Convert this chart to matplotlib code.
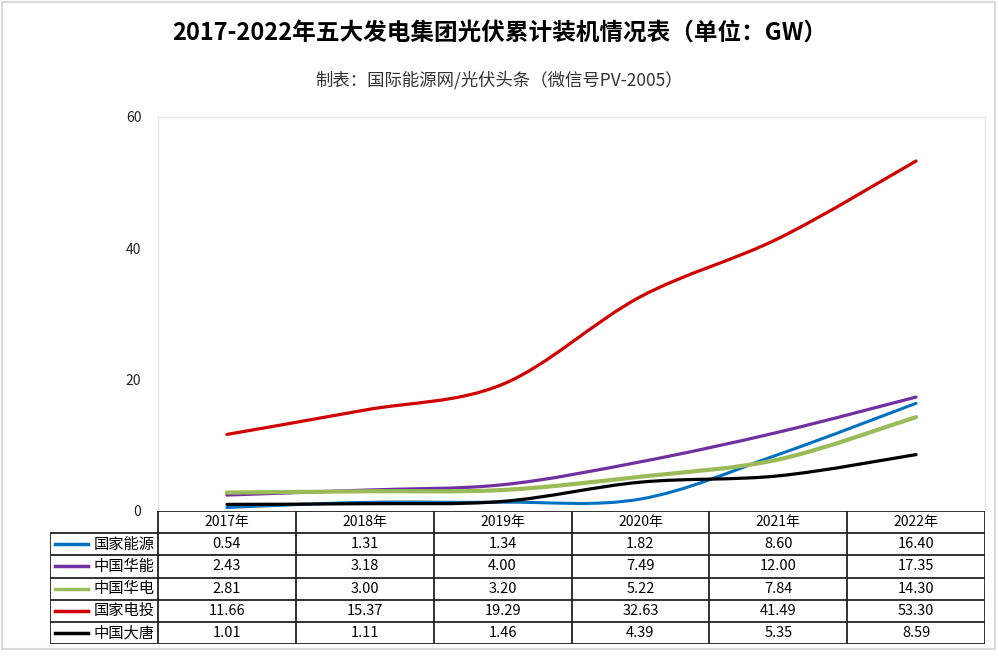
import numpy as np
import matplotlib
matplotlib.use("Agg")
import matplotlib.pyplot as plt
from matplotlib.path import Path
from matplotlib.patches import PathPatch, Rectangle

plt.rcParams['font.family'] = ['Noto Sans CJK SC', 'DejaVu Sans']

years = ['2017年', '2018年', '2019年', '2020年', '2021年', '2022年']
groups = ['国家能源', '中国华能', '中国华电', '国家电投', '中国大唐']
guoneng = [0.54, 1.31, 1.34, 1.82, 8.60, 16.40]
huaneng = [2.43, 3.18, 4.00, 7.49, 12.00, 17.35]
huadian = [2.81, 3.00, 3.20, 5.22, 7.84, 14.30]
diantou = [11.66, 15.37, 19.29, 32.63, 41.49, 53.30]
datang = [1.01, 1.11, 1.46, 4.39, 5.35, 8.59]
series = [guoneng, huaneng, huadian, diantou, datang]
colors = ['#0070C0', '#7030A0', '#9BBB59', '#D00000', '#000000']
widths = [2.2, 2.3, 3.0, 2.3, 2.3]


def smooth_path(x, y):
   # excel-like smoothed line: catmull-rom as cubic bezier segments
   pts = np.column_stack([x, y]).astype(float)
   p = np.vstack([pts[0], pts, pts[-1]])
   verts = [pts[0]]
   codes = [Path.MOVETO]
   for i in range(1, len(p) - 2):
      c1 = p[i] + (p[i + 1] - p[i - 1]) / 6.0
      c2 = p[i + 1] - (p[i + 2] - p[i]) / 6.0
      verts += [c1, c2, p[i + 1]]
      codes += [Path.CURVE4] * 3
   return Path(verts, codes)


W, H = 999, 659
fig = plt.figure(figsize=(W / 100, H / 100), dpi=100)

# outer frame
fig.patches.append(Rectangle((2 / W, 10 / H), (W - 6) / W, (H - 12) / H,
                             transform=fig.transFigure, fill=False,
                             edgecolor='#d9d9d9', linewidth=1.5))

fig.text(0.5, 1 - 33 / H, '2017-2022年五大发电集团光伏累计装机情况表（单位：GW）',
         ha='center', va='center', fontsize=17, fontweight='bold')
fig.text(0.5, 1 - 80 / H, '制表：国际能源网/光伏头条（微信号PV-2005）',
         ha='center', va='center', fontsize=12.5, color='#333333')

x_left, x_right = 158, 985
y_top, y_bot = 117, 511
ax = fig.add_axes([x_left / W, 1 - y_bot / H, (x_right - x_left) / W, (y_bot - y_top) / H])
x = np.arange(len(years))
for vals, c, lw in zip(series, colors, widths):
   ax.add_patch(PathPatch(smooth_path(x, vals), facecolor='none', edgecolor=c,
                          linewidth=lw, capstyle='round', zorder=3))
ax.set_xlim(-0.5, len(years) - 0.5)
ax.set_ylim(0, 60)
ax.set_yticks([0, 20, 40, 60])
ax.set_xticks([])
ax.tick_params(axis='y', length=0, pad=12, labelsize=10, labelcolor='#222222')
for s in ax.spines.values():
   s.set_color('#e6e6e6')
   s.set_linewidth(1)
ax.spines['bottom'].set_visible(False)

# data table with legend keys
t_left, t_right, t_top, t_bot = 50, 985, 511, 644
tax = fig.add_axes([t_left / W, 1 - t_bot / H, (t_right - t_left) / W, (t_bot - t_top) / H])
tax.set_xlim(t_left, t_right)
tax.set_ylim(t_bot, t_top)
tax.axis('off')
nrow = len(groups) + 1
row_h = (t_bot - t_top) / nrow
col_w = (t_right - x_left) / len(years)
lc = '#222222'
# header row
tax.plot([x_left, t_right], [t_top, t_top], color=lc, lw=1.3)
for j in range(len(years) + 1):
   xx = x_left + j * col_w
   tax.plot([xx, xx], [t_top, t_bot], color=lc, lw=1.3)
for i in range(1, nrow + 1):
   tax.plot([t_left, t_right], [t_top + i * row_h] * 2, color=lc, lw=1.3)
tax.plot([t_left, t_left], [t_top + row_h, t_bot], color=lc, lw=1.3)
for j, yr in enumerate(years):
   tax.text(x_left + (j + 0.5) * col_w, t_top + 0.5 * row_h, yr,
            ha='center', va='center', fontsize=10)
for i, (g, vals, c) in enumerate(zip(groups, series, colors)):
   yc = t_top + (i + 1.5) * row_h
   tax.plot([t_left + 5, t_left + 38], [yc, yc], color=c, lw=2.5)
   tax.text(x_left - 3, yc, g, ha='right', va='center', fontsize=11)
   for j, v in enumerate(vals):
      tax.text(x_left + (j + 0.5) * col_w, yc, '%.2f' % v,
               ha='center', va='center', fontsize=10.5)

fig.savefig('out.png', dpi=100)
